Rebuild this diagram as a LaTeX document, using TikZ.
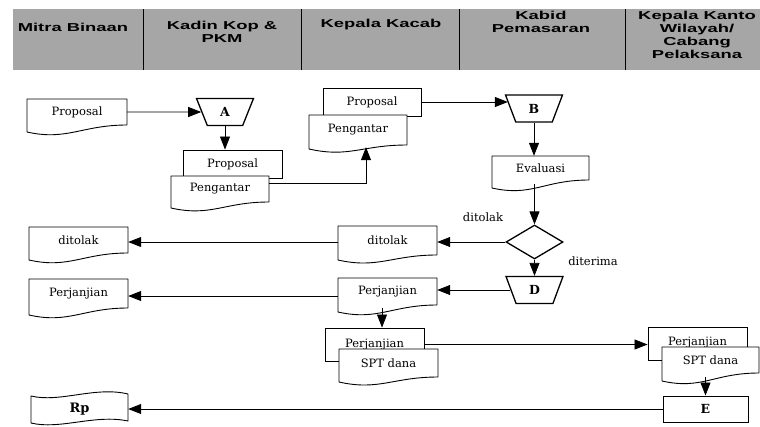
\documentclass[tikz,border=0pt]{standalone}
\usepackage{fontspec}
\setmainfont{DejaVu Serif}
\newfontfamily\hdrfont{Liberation Sans}[FakeStretch=1.6]
\usetikzlibrary{arrows.meta,shapes.geometric}
\newcommand\docshape[7]{%
  \draw[shp] (#2,#3) -- (#4,#3) -- (#4,#5) .. controls +(-45,0) and +(40,9) .. (#2,{#5+#6}) -- cycle;
  \node[txt, minimum width={(#4-#2)*1pt}, minimum height={(#5-#3)*1pt}] (#1) at ({(#2+#4)/2},{(#3+#5)/2}) {#7};
}
\newcommand\backbox[6]{%
  \node[boxn, minimum width={(#4-#2)*1pt}, minimum height={(#5-#3)*1pt}] (#1) at ({(#2+#4)/2},{(#3+#5)/2}) {#6};
}
\begin{document}
\begin{tikzpicture}[x=1pt,y=-1pt,
  shp/.style={draw, line width=0.9pt, fill=white, line join=round},
  txt/.style={inner sep=0pt, font=\fontsize{11.5}{13}\selectfont},
  boxn/.style={draw, line width=0.9pt, fill=white, inner sep=0pt, font=\fontsize{11.5}{13}\selectfont},
  trap/.style={trapezium, draw, line width=1.3pt, trapezium left angle=108, trapezium right angle=108,
    trapezium stretches=true, minimum width=57pt, minimum height=27pt, inner sep=0pt,
    font=\bfseries\fontsize{12.5}{12}\selectfont},
  decis/.style={diamond, draw, line width=1.3pt, minimum width=57pt, minimum height=34pt, inner sep=0pt},
  ebox/.style={draw, line width=1pt, minimum width=85pt, minimum height=26pt, inner sep=0pt,
    font=\bfseries\fontsize{12.5}{12}\selectfont},
  arr/.style={-{Triangle[length=13pt,width=10pt]}, line width=0.8pt},
  hdr/.style={font=\hdrfont\bfseries\fontsize{11.5}{13}\selectfont, align=center, inner sep=0pt}]
\useasboundingbox (0,0) rectangle (760,426);
% header band
\fill[black!35] (13,9) rectangle (760,70);
\foreach \xx in {143,301,459,625} \draw[line width=1pt] (\xx,9) -- (\xx,70);
\node[hdr] (h1) at (73,27) {Mitra Binaan};
\node[hdr] (h2) at (222,32) {Kadin Kop \&\\PKM};
\node[hdr] (h3) at (381,25) {Kepala Kacab};
\node[hdr] (h4) at (541,21.5) {Kabid\\Pemasaran};
\node[hdr] (h5) at (697,35) {Kepala Kanto\\Wilayah/\\Cabang\\Pelaksana};
% Mitra Binaan column
\docshape{mprop}{27}{99}{127}{125}{7}{Proposal}
\docshape{mdit}{29}{227}{128}{253}{7}{ditolak}
\docshape{mperj}{29}{279}{128}{308}{7}{Perjanjian}
\draw[shp] (31,396) .. controls (60,403) and (95,386) .. (128,394) -- (128,421) .. controls (95,414) and (60,430) .. (31,423) -- cycle;
\node[txt, minimum width=97pt, minimum height=26pt, font=\bfseries\fontsize{13}{13}\selectfont] (rp) at (79.5,409) {Rp};
% Kadin column
\node[trap] (A) at (225,112) {A};
\backbox{kprop}{183}{150}{282}{178}{Proposal}
\docshape{kpeng}{171}{176}{269}{202}{6}{Pengantar}
% Kepala Kacab column
\backbox{cprop}{323}{88}{421}{116}{Proposal}
\docshape{cpeng}{309}{115}{407}{145}{4}{Pengantar}
\docshape{cdit}{338}{226}{437}{255}{5}{ditolak}
\docshape{cperj}{338}{278}{437}{305}{7}{Perjanjian}
\backbox{cperj2}{325}{328}{424}{361}{\raisebox{3pt}{Perjanjian}}
\docshape{cspt}{339}{349}{438}{377}{5}{SPT dana}
% Kabid column
\node[trap] (B) at (534,108.5) {B};
\docshape{eval}{492}{156}{589}{180}{8}{Evaluasi}
\node[decis] (dia) at (534.5,242) {};
\node[trap] (D) at (534.5,290) {D};
\node[txt] (lt) at (483,217) {ditolak};
\node[txt] (lr) at (593,261) {diterima};
% Kepala Kantor column
\backbox{rperj2}{648}{327}{747}{360}{\raisebox{4.5pt}{Perjanjian}}
\docshape{rspt}{662}{347}{759}{373}{8}{SPT dana}
\node[ebox] (E) at (705.5,409) {E};
% connectors
\draw[arr] (mprop) -- (A);
\draw[arr] (A.south) -- (A.south |- kprop.north);
\coordinate (c1) at ([xshift=8pt,yshift=-2pt]cpeng.south);
\coordinate (k1) at ([yshift=6pt]kpeng.east);
\draw[arr] (k1) -| (c1);
\coordinate (bin) at (cprop.east -| B.west);
\draw[arr] (cprop.east) -- ([xshift=-2.1pt]bin);
\draw[arr] (B.south) -- (B.south |- eval.north);
\coordinate (e1) at (dia.north |- eval.south);
\draw[arr] ([yshift=-4pt]e1) -- (dia.north);
\draw[arr] (dia) -- (D);
\draw[arr] (dia.west) -- (dia.west -| cdit.east);
\draw[arr] (dia.west -| cdit.west) -- (dia.west -| mdit.east);
\draw[arr] (D.west) -- (D.west -| cperj.east);
\coordinate (p1) at ([yshift=-4.5pt]cperj.west);
\draw[arr] (p1) -- (p1 -| mperj.east);
\coordinate (p2) at ([xshift=-5.5pt,yshift=-3pt]cperj.south);
\draw[arr] (p2) -- (p2 |- cperj2.north);
\draw[arr] (cperj2.east) -- (cperj2.east -| rperj2.west);
\coordinate (q0) at (E.north |- rspt.south);
\coordinate (q) at ([yshift=-4pt]q0);
\draw[arr] (q) -- (E.north);
\draw[arr] (E.west) -- (E.west -| rp.east);
\end{tikzpicture}
\end{document}
